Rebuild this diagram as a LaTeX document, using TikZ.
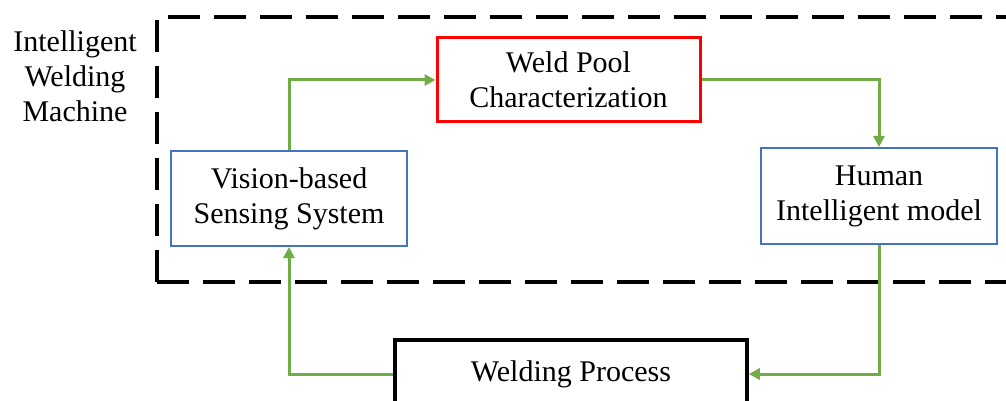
\documentclass[tikz,border=0pt]{standalone}
\usepackage{fontspec}
\setmainfont{Liberation Serif}
\usetikzlibrary{arrows.meta}
\definecolor{arrgreen}{HTML}{70AD47}
\definecolor{boxblue}{HTML}{4472C4}
\begin{document}
\begin{tikzpicture}[x=1pt,y=-1pt,
  txt/.style={font=\fontsize{30}{35}\selectfont, align=center, inner sep=0pt},
  bluebox/.style={txt, draw=boxblue, line width=2pt, fill=white},
  arr/.style={draw=arrgreen, line width=3pt, -{Triangle[length=11pt,width=11pt]}}]
\clip (0,0) rectangle (1006,401);
\fill[white] (0,0) rectangle (1006,401);
\draw[line width=4pt, dash pattern=on 32pt off 14pt] (157,282) -- (157,17) -- (1040,17);
\draw[line width=4pt, dash pattern=on 32pt off 14pt] (157,282) -- (1040,282);
\node[txt] (label) at (75,76) {Intelligent\\Welding\\Machine};
\node[bluebox, minimum width=236pt, minimum height=95pt] (vision) at (289,198.5) {Vision-based\\Sensing System};
\node[txt, draw=red, line width=3pt, fill=white, minimum width=263pt, minimum height=84pt] (weld) at (568.5,80) {Weld Pool\\Characterization};
\node[bluebox, minimum width=236pt, minimum height=96pt] (human) at (879,196) {Human\\Intelligent model};
\node[txt, draw=black, line width=3.5pt, fill=white, minimum width=352pt, minimum height=68pt] (proc) at (571,374) {Welding Process};
\draw[arr] (vision.north) |- (weld.west);
\draw[arr] (weld.east) -| (human.north);
\draw[arr] (human.south) |- (proc.east);
\draw[arr] (proc.west) -| (vision.south);
\end{tikzpicture}
\end{document}
